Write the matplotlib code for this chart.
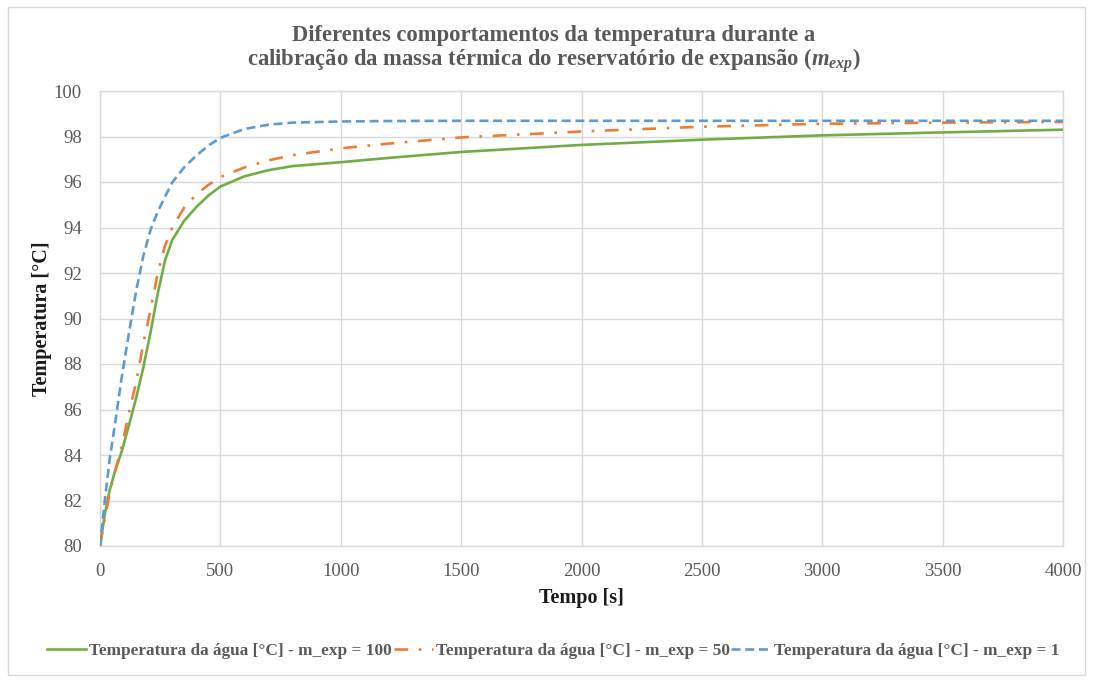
import matplotlib
matplotlib.use("Agg")
import matplotlib.pyplot as plt
from matplotlib.lines import Line2D

plt.rcParams['font.family'] = ['Liberation Serif', 'DejaVu Serif']
plt.rcParams['mathtext.fontset'] = 'custom'
plt.rcParams['mathtext.rm'] = 'Liberation Serif:bold'
plt.rcParams['mathtext.it'] = 'Liberation Serif:italic:bold'
plt.rcParams['mathtext.bf'] = 'Liberation Serif:bold'

# Time [s]
tempo = [0, 20, 40, 60, 90, 120, 150, 180, 210, 240, 270, 300, 350, 400, 450,
         500, 600, 700, 800, 1000, 1200, 1500, 2000, 2500, 3000, 3500, 4000]

# Water temperature [°C] for each thermal mass of the expansion tank
temp_m100 = [80.0, 81.4, 82.45, 83.2, 84.15, 85.3, 86.5, 87.85, 89.4, 91.1, 92.55,
             93.45, 94.3, 94.9, 95.4, 95.8, 96.25, 96.52, 96.7, 96.87, 97.06,
             97.32, 97.63, 97.86, 98.05, 98.18, 98.3]
temp_m50 = [80.0, 81.2, 82.3, 83.2, 84.35, 85.83, 87.2, 88.9, 90.38, 92.0, 93.2,
            94.0, 94.88, 95.45, 95.87, 96.22, 96.64, 96.95, 97.18, 97.48, 97.69,
            97.96, 98.22, 98.43, 98.56, 98.61, 98.64]
temp_m1 = [80.0, 82.0, 83.8, 85.2, 87.4, 89.35, 91.2, 92.75, 93.9, 94.7, 95.35,
           95.98, 96.65, 97.16, 97.6, 97.94, 98.33, 98.52, 98.61, 98.66, 98.68,
           98.69, 98.69, 98.69, 98.69, 98.69, 98.69]

labels = ["Temperatura da água [°C] - m_exp = 100",
          "Temperatura da água [°C] - m_exp = 50",
          "Temperatura da água [°C] - m_exp = 1"]

x_ticks = [0, 500, 1000, 1500, 2000, 2500, 3000, 3500, 4000]
y_ticks = [80, 82, 84, 86, 88, 90, 92, 94, 96, 98, 100]

GREEN = "#70AD47"
ORANGE = "#ED7D31"
BLUE = "#5B9BD5"
GRID = "#D9D9D9"
TXT = "#595959"

W, H = 1093, 682
fig = plt.figure(figsize=(W / 100, H / 100), dpi=100)

# chart area border
fig.patches.append(plt.Rectangle((8 / W, 7 / H), (1085 - 8) / W, (675 - 7) / H,
                                 transform=fig.transFigure, fill=False,
                                 edgecolor=GRID, linewidth=1))

ax = fig.add_axes([100 / W, 1 - 546 / H, (1063 - 100) / W, (546 - 91) / H])

lw = 1.9
DASHDOT = (5.2, 4.0, 1.0, 4.0)
DASH = (3.4, 1.8)
ax.plot(tempo, temp_m100, color=GREEN, lw=lw, solid_capstyle='round',
        solid_joinstyle='round', label=labels[0], zorder=3)
ax.plot(tempo, temp_m50, color=ORANGE, lw=lw, dashes=DASHDOT,
        dash_capstyle='butt', label=labels[1], zorder=3)
ax.plot(tempo, temp_m1, color=BLUE, lw=lw, dashes=DASH,
        dash_capstyle='butt', label=labels[2], zorder=3)

ax.set_xlim(0, 4000)
ax.set_ylim(80, 100)
ax.set_xticks(x_ticks)
ax.set_yticks(y_ticks)
ax.grid(True, color=GRID, linewidth=1)
ax.set_axisbelow(True)
for s in ax.spines.values():
    s.set_color(GRID)
    s.set_linewidth(1)
ax.tick_params(length=0, labelsize=13.5, labelcolor=TXT)
ax.tick_params(axis='x', pad=12)
ax.tick_params(axis='y', pad=13)

ax.set_xlabel("Tempo [s]", fontsize=14.5, fontweight='bold', color='#1a1a1a', labelpad=6)
ax.set_ylabel("Temperatura [°C]", fontsize=14.5, fontweight='bold', color='#1a1a1a', labelpad=1)

fig.text(554 / W, 1 - 35 / H, "Diferentes comportamentos da temperatura durante a",
         ha='center', va='center', fontsize=16.3, fontweight='bold', color=TXT)
fig.text(554 / W, 1 - 61 / H,
         r"calibração da massa térmica do reservatório de expansão ($\mathit{m}_{\mathit{exp}}$)",
         ha='center', va='center', fontsize=16.3, fontweight='bold', color=TXT)

handles = [Line2D([], [], color=GREEN, lw=lw),
           Line2D([], [], color=ORANGE, lw=lw, dashes=DASHDOT, dash_capstyle='butt'),
           Line2D([], [], color=BLUE, lw=lw, dashes=DASH, dash_capstyle='butt')]
leg = fig.legend(handles, labels, loc='center', bbox_to_anchor=(553 / W, 1 - 651 / H),
                 ncol=3, frameon=False, handlelength=2.3, handletextpad=0.15,
                 columnspacing=0.1, prop={'family': 'Liberation Serif', 'weight': 'bold', 'size': 12.4})
for t in leg.get_texts():
    t.set_color(TXT)

fig.savefig("out.png", dpi=100)
